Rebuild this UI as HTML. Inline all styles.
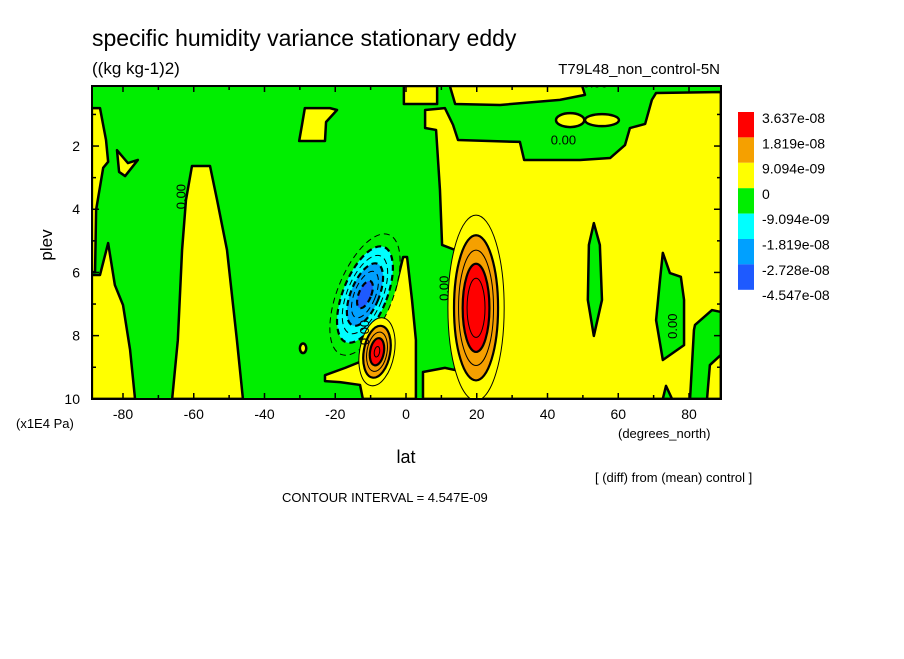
<!DOCTYPE html>
<html><head><meta charset="utf-8"><style>
body{margin:0;background:#fff;}
svg text{font-family:"Liberation Sans",sans-serif;fill:#000;}
</style></head><body>
<svg id="chart" width="904" height="654" viewBox="0 0 904 654">
<rect x="0" y="0" width="904" height="654" fill="#fff"/>
<text x="92" y="46" font-size="23">specific humidity variance stationary eddy</text>
<text x="92" y="74" font-size="17">((kg kg-1)2)</text>
<text x="720" y="74" font-size="15" text-anchor="end">T79L48_non_control-5N</text>
<text x="52" y="245" font-size="17" text-anchor="middle" transform="rotate(-90 52 245)">plev</text>
<text x="16" y="428" font-size="13">(x1E4 Pa)</text>
<text x="406" y="463" font-size="18" text-anchor="middle">lat</text>
<text x="618" y="438" font-size="13">(degrees_north)</text>
<text x="595" y="482" font-size="13">[ (diff) from (mean) control ]</text>
<text x="282" y="502" font-size="13">CONTOUR INTERVAL = 4.547E-09</text>
<defs><clipPath id="pc"><rect x="92" y="86" width="629" height="313"/></clipPath></defs>
<g id="plot" clip-path="url(#pc)"></g>
<g id="axes"></g>
<g id="legend"></g>
</svg>
<script>
// axis data
const latTicks = [-80,-60,-40,-20,0,20,40,60,80];
const plevTicks = [2,4,6,8,10];
// yellow (>=0) regions, lat/plev pairs
const yellowMain = [[5.4,0.86],[11.0,0.80],[13.3,1.33],[14.7,1.81],[32.2,1.87],[33.4,2.44],[49.2,2.44],[57.7,2.38],[61.9,1.97],[63.3,1.43],[67.6,1.30],[69.5,0.54],[70.7,0.32],[89,0.29],[89,10],[4.8,10],[4.8,9.15],[11.0,9.02],[13.9,9.09],[13.9,5.29],[10.2,5.13],[9.6,3.39],[8.5,1.49],[5.4,1.43]];
const yellowTopA = [[-0.6,0.1],[8.8,0.1],[8.8,0.67],[-0.6,0.67]];
const yellowTopB = [[12.4,0.1],[49.8,0.1],[50.6,0.38],[43.5,0.54],[26.6,0.7],[13.9,0.67]];
const yellowCenter = [[-22.9,9.25],[-17.2,9.02],[-13.0,8.83],[-11.6,7.98],[-7.3,6.87],[-3.1,6.56],[-0.8,5.51],[0.3,5.51],[1.7,6.87],[2.8,8.14],[2.8,10],[-12.2,10],[-13.0,9.56],[-18.7,9.47],[-22.9,9.44]];
const yellowCol60 = [[-66.1,10],[-64.5,8.14],[-63.3,5.29],[-62.2,3.71],[-60.5,2.63],[-55.4,2.63],[-53.4,3.71],[-50.6,5.29],[-47.8,8.14],[-46.1,10]];
const yellowBL = [[-88.8,6.08],[-86.5,6.08],[-84.2,5.07],[-82.3,6.40],[-80,7.03],[-78,8.45],[-76.6,10],[-88.8,10]];
const yellowLeft = [[-88.8,0.80],[-86.5,0.80],[-84.8,1.81],[-84.2,2.50],[-85.6,2.69],[-87.6,4.02],[-87.9,5.99],[-88.8,5.99]];
const yellowTri = [[-81.7,2.13],[-78.6,2.54],[-75.8,2.44],[-79.4,2.95],[-81.1,2.82]];
const yellowL5 = [[-28.6,0.80],[-21.5,0.80],[-19.5,0.86],[-22.6,1.24],[-22.9,1.84],[-30.2,1.84],[-29.4,1.33]];
const greenG1 = [[53.1,4.44],[54.8,5.13],[55.4,6.87],[53.1,8.01],[51.4,6.87],[51.7,5.13]];
const greenG2 = [[72.6,5.38],[74.6,6.02],[77.7,6.14],[78.6,6.87],[78.6,8.30],[72.6,8.77],[70.7,7.51],[71.8,6.24]];
const greenG3 = [[81.7,7.66],[86.5,7.19],[89,7.25],[89,8.61],[85.9,8.93],[85.1,10],[80.3,10],[81.4,7.82]];
const greenG4 = [[72.6,10],[73.5,9.59],[75.2,10]];
// small yellow lenses: lat, plev, half-width(deg), half-height(plev)
const lensLat = [46.4,55.4,-29.1];
const lensPlev = [1.18,1.18,8.4];
const lensRx = [4,4.8,0.9];
const lensRy = [0.22,0.19,0.15];
// anomaly blobs (amplitude in contour intervals)
const blobLat = [19.8,-11.6,-8.2];
const blobPlev = [7.12,6.7,8.51];
const blobAmp = [6.0,-6.6,5.2];
const blobSx = [4.2,4.0,2.7];
const blobSy = [1.55,1.05,0.6];
const blobTilt = [0,22,10];
const legendLabels = ["3.637e-08","1.819e-08","9.094e-09","0","-9.094e-09","-1.819e-08","-2.728e-08","-4.547e-08"];
const legendColors = ["#ff0000","#f5a000","#ffff00","#00ee00","#00ffff","#00a0ff","#1e5aff"];

const NS="http://www.w3.org/2000/svg";
const X = lat => 406 + lat*3.5375;
const Y = p => 86 + (p-0.1)*31.6;
function el(tag, attrs, parent){const e=document.createElementNS(NS,tag);for(const k in attrs)e.setAttribute(k,attrs[k]);parent.appendChild(e);return e;}
const plot=document.getElementById('plot'), axes=document.getElementById('axes'), leg=document.getElementById('legend');
let r=el('rect',{x:92,y:86,width:629,height:313,fill:'#00ee00'},plot);


function poly(pts,fill,name){const p=el('polygon',{points:pts.map(q=>X(q[0])+','+Y(q[1])).join(' '),fill:fill,stroke:'#000','stroke-width':2.5,'stroke-linejoin':'round'},plot);

}
poly(yellowMain,'#ffff00','positive-region-north');
poly(yellowTopA,'#ffff00','positive-region-top-a');
poly(yellowTopB,'#ffff00','positive-region-top-b');
poly(yellowCenter,'#ffff00','positive-region-center');
poly(yellowCol60,'#ffff00','positive-region-60s');
poly(yellowBL,'#ffff00','positive-region-bottom-left');
poly(yellowLeft,'#ffff00','positive-region-left-edge');
poly(yellowTri,'#ffff00','positive-region-triangle');
poly(yellowL5,'#ffff00','positive-region-upper-30s');
poly(greenG1,'#00ee00','negative-region-50n');
poly(greenG2,'#00ee00','negative-region-75n');
poly(greenG3,'#00ee00','negative-region-85n');
poly(greenG4,'#00ee00','negative-region-bottom');
for(let i=0;i<lensLat.length;i++){
 const e=el('ellipse',{cx:X(lensLat[i]),cy:Y(lensPlev[i]),rx:lensRx[i]*3.5375,ry:lensRy[i]*31.6,fill:'#ffff00',stroke:'#000','stroke-width':2.5},plot);
 
 
}
function levelColor(k){
 if(k>=4)return '#ff0000'; if(k>=2)return '#f5a000'; if(k>=1)return '#ffff00';
 if(k<=-6)return '#1e5aff'; if(k<=-4)return '#00a0ff'; if(k<=-2)return '#00ffff'; return '#00ee00';
}
for(let i=0;i<blobLat.length;i++){
 const A=blobAmp[i], s=Math.sign(A), n=Math.floor(Math.abs(A));
 const g=el('g',{transform:'rotate('+blobTilt[i]+' '+X(blobLat[i])+' '+Y(blobPlev[i])+')'},plot);
 
 
 for(let k=1;k<=n;k++){
  const rr=Math.sqrt(2*Math.log(Math.abs(A)/k));
  const e=el('ellipse',{cx:X(blobLat[i]),cy:Y(blobPlev[i]),rx:rr*blobSx[i]*3.5375,ry:rr*blobSy[i]*31.6,
   fill:levelColor(s*k),stroke:'#000','stroke-width':(k%2==0?2.2:1),'stroke-dasharray':(s<0?'6,4':'none')},g);
  
  
 }
}
const zl=[[-62.4,3.6,-90],[53.5,0.15,0],[44.5,1.95,0],[76.6,7.7,-90],[12,6.5,-90],[-10.5,7.9,-90]];
zl.forEach(z=>{const t=el('text',{x:X(z[0]),y:Y(z[1]),'font-size':13,'text-anchor':'middle',transform:'rotate('+z[2]+' '+X(z[0])+' '+Y(z[1])+')'},plot);t.textContent='0.00';

});
// frame
let f=el('rect',{x:92,y:86,width:629,height:313,fill:'none',stroke:'#000','stroke-width':2},axes);


for(let lat=-80;lat<=80;lat+=10){
 const major=lat%20==0;
 const t=el('line',{x1:X(lat),x2:X(lat),y1:399,y2:399-(major?6:4),stroke:'#000','stroke-width':1.5},axes);
 
 
 const t2=el('line',{x1:X(lat),x2:X(lat),y1:86,y2:86+(major?6:4),stroke:'#000','stroke-width':1.5},axes);
 
 
}
latTicks.forEach(v=>{const t=el('text',{x:X(v),y:419,'font-size':14,'text-anchor':'middle'},axes);t.textContent=String(v);

});
for(let p=1;p<=10;p++){
 const major=p%2==0;
 const t=el('line',{x1:92,x2:92+(major?7:4),y1:Y(p),y2:Y(p),stroke:'#000','stroke-width':1.5},axes);
 
 
 const t2=el('line',{x1:721,x2:721-(major?7:4),y1:Y(p),y2:Y(p),stroke:'#000','stroke-width':1.5},axes);
 
 
}
plevTicks.forEach(v=>{const t=el('text',{x:80,y:Y(v)+5,'font-size':14,'text-anchor':'end'},axes);t.textContent=String(v);

});
// legend
legendColors.forEach((c,i)=>{const b=el('rect',{x:738,y:112+i*25.4,width:16,height:25.4,fill:c},leg);

});
legendLabels.forEach((s,i)=>{const t=el('text',{x:762,y:123+i*25.3,'font-size':14},leg);t.textContent=s;

});
</script>
</body></html>
